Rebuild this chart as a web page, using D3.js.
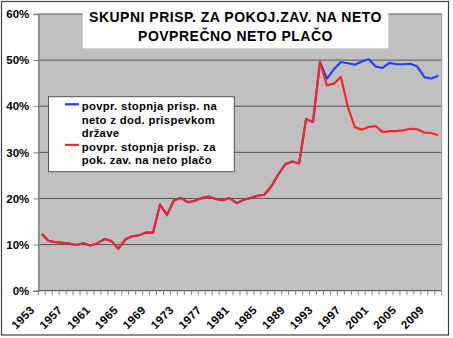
<!DOCTYPE html>
<html>
<head>
<meta charset="utf-8">
<script src="https://cdn.jsdelivr.net/npm/d3@7/dist/d3.min.js"></script>
<style>
  html, body { margin: 0; padding: 0; background: #ffffff; }
  svg { display: block; }
  text { font-family: "Liberation Sans", Arial, sans-serif; font-weight: bold; fill: #000; }
</style>
</head>
<body>
<svg id="chart" width="453" height="338"></svg>
<script>
// Years on the category axis
const years = d3.range(1953, 2011);

// Average contribution rate for pension insurance, % of net wage
const pokojninsko = [
  12.3, 10.8, 10.5, 10.4, 10.2, 9.9, 10.3, 9.8, 10.3, 11.2,
  10.8, 9.1, 11.1, 11.8, 12.0, 12.6, 12.6, 18.7, 16.4, 19.6,
  20.1, 19.2, 19.5, 20.1, 20.4, 19.9, 19.6, 20.1, 19.0, 19.7,
  20.1, 20.6, 20.8, 22.6, 25.2, 27.4, 28.0, 27.6, 37.2, 36.6,
  49.6, 44.5, 44.9, 46.4, 39.9, 35.5, 34.9, 35.5, 35.7, 34.4,
  34.6, 34.6, 34.8, 35.1, 35.0, 34.3, 34.2, 33.7
];

// Same rate including the additional state contribution
const zDrzavo = [
  12.3, 10.8, 10.5, 10.4, 10.2, 9.9, 10.3, 9.8, 10.3, 11.2,
  10.8, 9.1, 11.1, 11.8, 12.0, 12.6, 12.6, 18.7, 16.4, 19.6,
  20.1, 19.2, 19.5, 20.1, 20.4, 19.9, 19.6, 20.1, 19.0, 19.7,
  20.1, 20.6, 20.8, 22.6, 25.2, 27.4, 28.0, 27.6, 37.2, 36.6,
  49.6, 46.0, 48.0, 49.6, 49.3, 49.0, 49.7, 50.2, 48.6, 48.3,
  49.4, 49.1, 49.1, 49.2, 48.6, 46.3, 46.0, 46.6
];

const yTicks = [0, 10, 20, 30, 40, 50, 60];
const xLabelYears = d3.range(1953, 2011, 4);

const titleLines = ["SKUPNI PRISP. ZA POKOJ.ZAV. NA NETO", "POVPREČNO NETO PLAČO"];
const legendItems = [
  { lines: ["povpr. stopnja prisp. na", "neto z dod. prispevkom", "države"], color: "#1f3fff" },
  { lines: ["povpr. stopnja prisp. za", "pok. zav. na neto plačo"], color: "#ff2020" }
];

const svg = d3.select("#chart");

// chart frame
svg.append("rect")
  .attr("x", 1.5).attr("y", 1.5).attr("width", 447).attr("height", 333.5)
  .attr("fill", "#fff").attr("stroke", "#404040").attr("stroke-width", 1.2);

const plot = { left: 38.3, right: 441.7, top: 14, bottom: 290.7 };

const x = d3.scaleBand().domain(years).range([plot.left, plot.right]).padding(0);
const y = d3.scaleLinear().domain([0, 60]).range([plot.bottom, plot.top]);
const cx = yr => x(yr) + x.bandwidth() / 2;

// plot area
svg.append("rect")
  .attr("x", plot.left).attr("y", plot.top)
  .attr("width", plot.right - plot.left).attr("height", plot.bottom - plot.top)
  .attr("fill", "#c0c0c0");

// gridlines
svg.append("g").selectAll("line").data(yTicks.filter(d => d > 0)).join("line")
  .attr("x1", plot.left).attr("x2", plot.right)
  .attr("y1", d => y(d)).attr("y2", d => y(d))
  .attr("stroke", "#555").attr("stroke-width", 1);

// right edge of plot area
svg.append("line")
  .attr("x1", plot.right).attr("x2", plot.right)
  .attr("y1", plot.top).attr("y2", plot.bottom)
  .attr("stroke", "#9a9a9a").attr("stroke-width", 1);

// y axis
const yAxis = d3.axisLeft(y).tickValues(yTicks).tickSize(5).tickPadding(4)
  .tickFormat(d => d + "%");
const gy = svg.append("g").attr("transform", `translate(${plot.left},0)`).call(yAxis);
gy.select(".domain").attr("stroke", "#808080").attr("stroke-width", 1.5);
gy.selectAll(".tick line").attr("stroke", "#808080");
gy.selectAll(".tick text")
  .attr("font-family", "Liberation Sans, Arial, sans-serif")
  .attr("font-weight", "bold").attr("font-size", 11.5).attr("fill", "#000");

// x axis: tick marks between categories
const xTickPos = d3.range(years.length + 1).map(i => plot.left + i * x.bandwidth());
svg.append("line")
  .attr("x1", plot.left).attr("x2", plot.right)
  .attr("y1", plot.bottom).attr("y2", plot.bottom)
  .attr("stroke", "#666").attr("stroke-width", 1.2);
svg.append("g").selectAll("line").data(xTickPos).join("line")
  .attr("x1", d => d).attr("x2", d => d)
  .attr("y1", plot.bottom).attr("y2", plot.bottom + 4.5)
  .attr("stroke", "#808080").attr("stroke-width", 1);

svg.append("g").selectAll("text").data(xLabelYears).join("text")
  .attr("text-anchor", "end")
  .attr("font-size", 11.5)
  .attr("letter-spacing", 0.3)
  .attr("transform", d => `translate(${cx(d) - 6.5},${plot.bottom + 20}) rotate(-45)`)
  .text(d => d);

// series lines
const line = d3.line()
  .x((d, i) => cx(years[i]))
  .y(d => y(d));

svg.append("path").datum(zDrzavo)
  .attr("d", line).attr("fill", "none")
  .attr("stroke", legendItems[0].color).attr("stroke-width", 2.1)
  .attr("stroke-linejoin", "round");
svg.append("path").datum(pokojninsko)
  .attr("d", line).attr("fill", "none")
  .attr("stroke", legendItems[1].color).attr("stroke-width", 2.1)
  .attr("stroke-linejoin", "round");

// title box
svg.append("rect")
  .attr("x", 82.7).attr("y", 9).attr("width", 305.6).attr("height", 39.3)
  .attr("fill", "#fff");
svg.append("g").selectAll("text").data(titleLines).join("text")
  .attr("x", 235.5).attr("y", (d, i) => 21.6 + i * 19)
  .attr("text-anchor", "middle").attr("font-size", 14)
  .attr("letter-spacing", 0.5)
  .text(d => d);

// legend
const lg = svg.append("g");
lg.append("rect")
  .attr("x", 48.5).attr("y", 96.7).attr("width", 185.8).attr("height", 75)
  .attr("fill", "#fff").attr("stroke", "#555").attr("stroke-width", 1);

const baselines = [[110, 123.6, 137], [150.6, 163.6]];
legendItems.forEach((item, k) => {
  const b = baselines[k];
  lg.append("line")
    .attr("x1", 65).attr("x2", 79)
    .attr("y1", b[0] - 5.7).attr("y2", b[0] - 5.7)
    .attr("stroke", item.color).attr("stroke-width", 2.2);
  lg.selectAll(null).data(item.lines).join("text")
    .attr("x", 81.7).attr("y", (d, i) => b[i])
    .attr("font-size", 11.3)
    .attr("letter-spacing", 0.33)
    .text(d => d);
});
</script>
</body>
</html>
